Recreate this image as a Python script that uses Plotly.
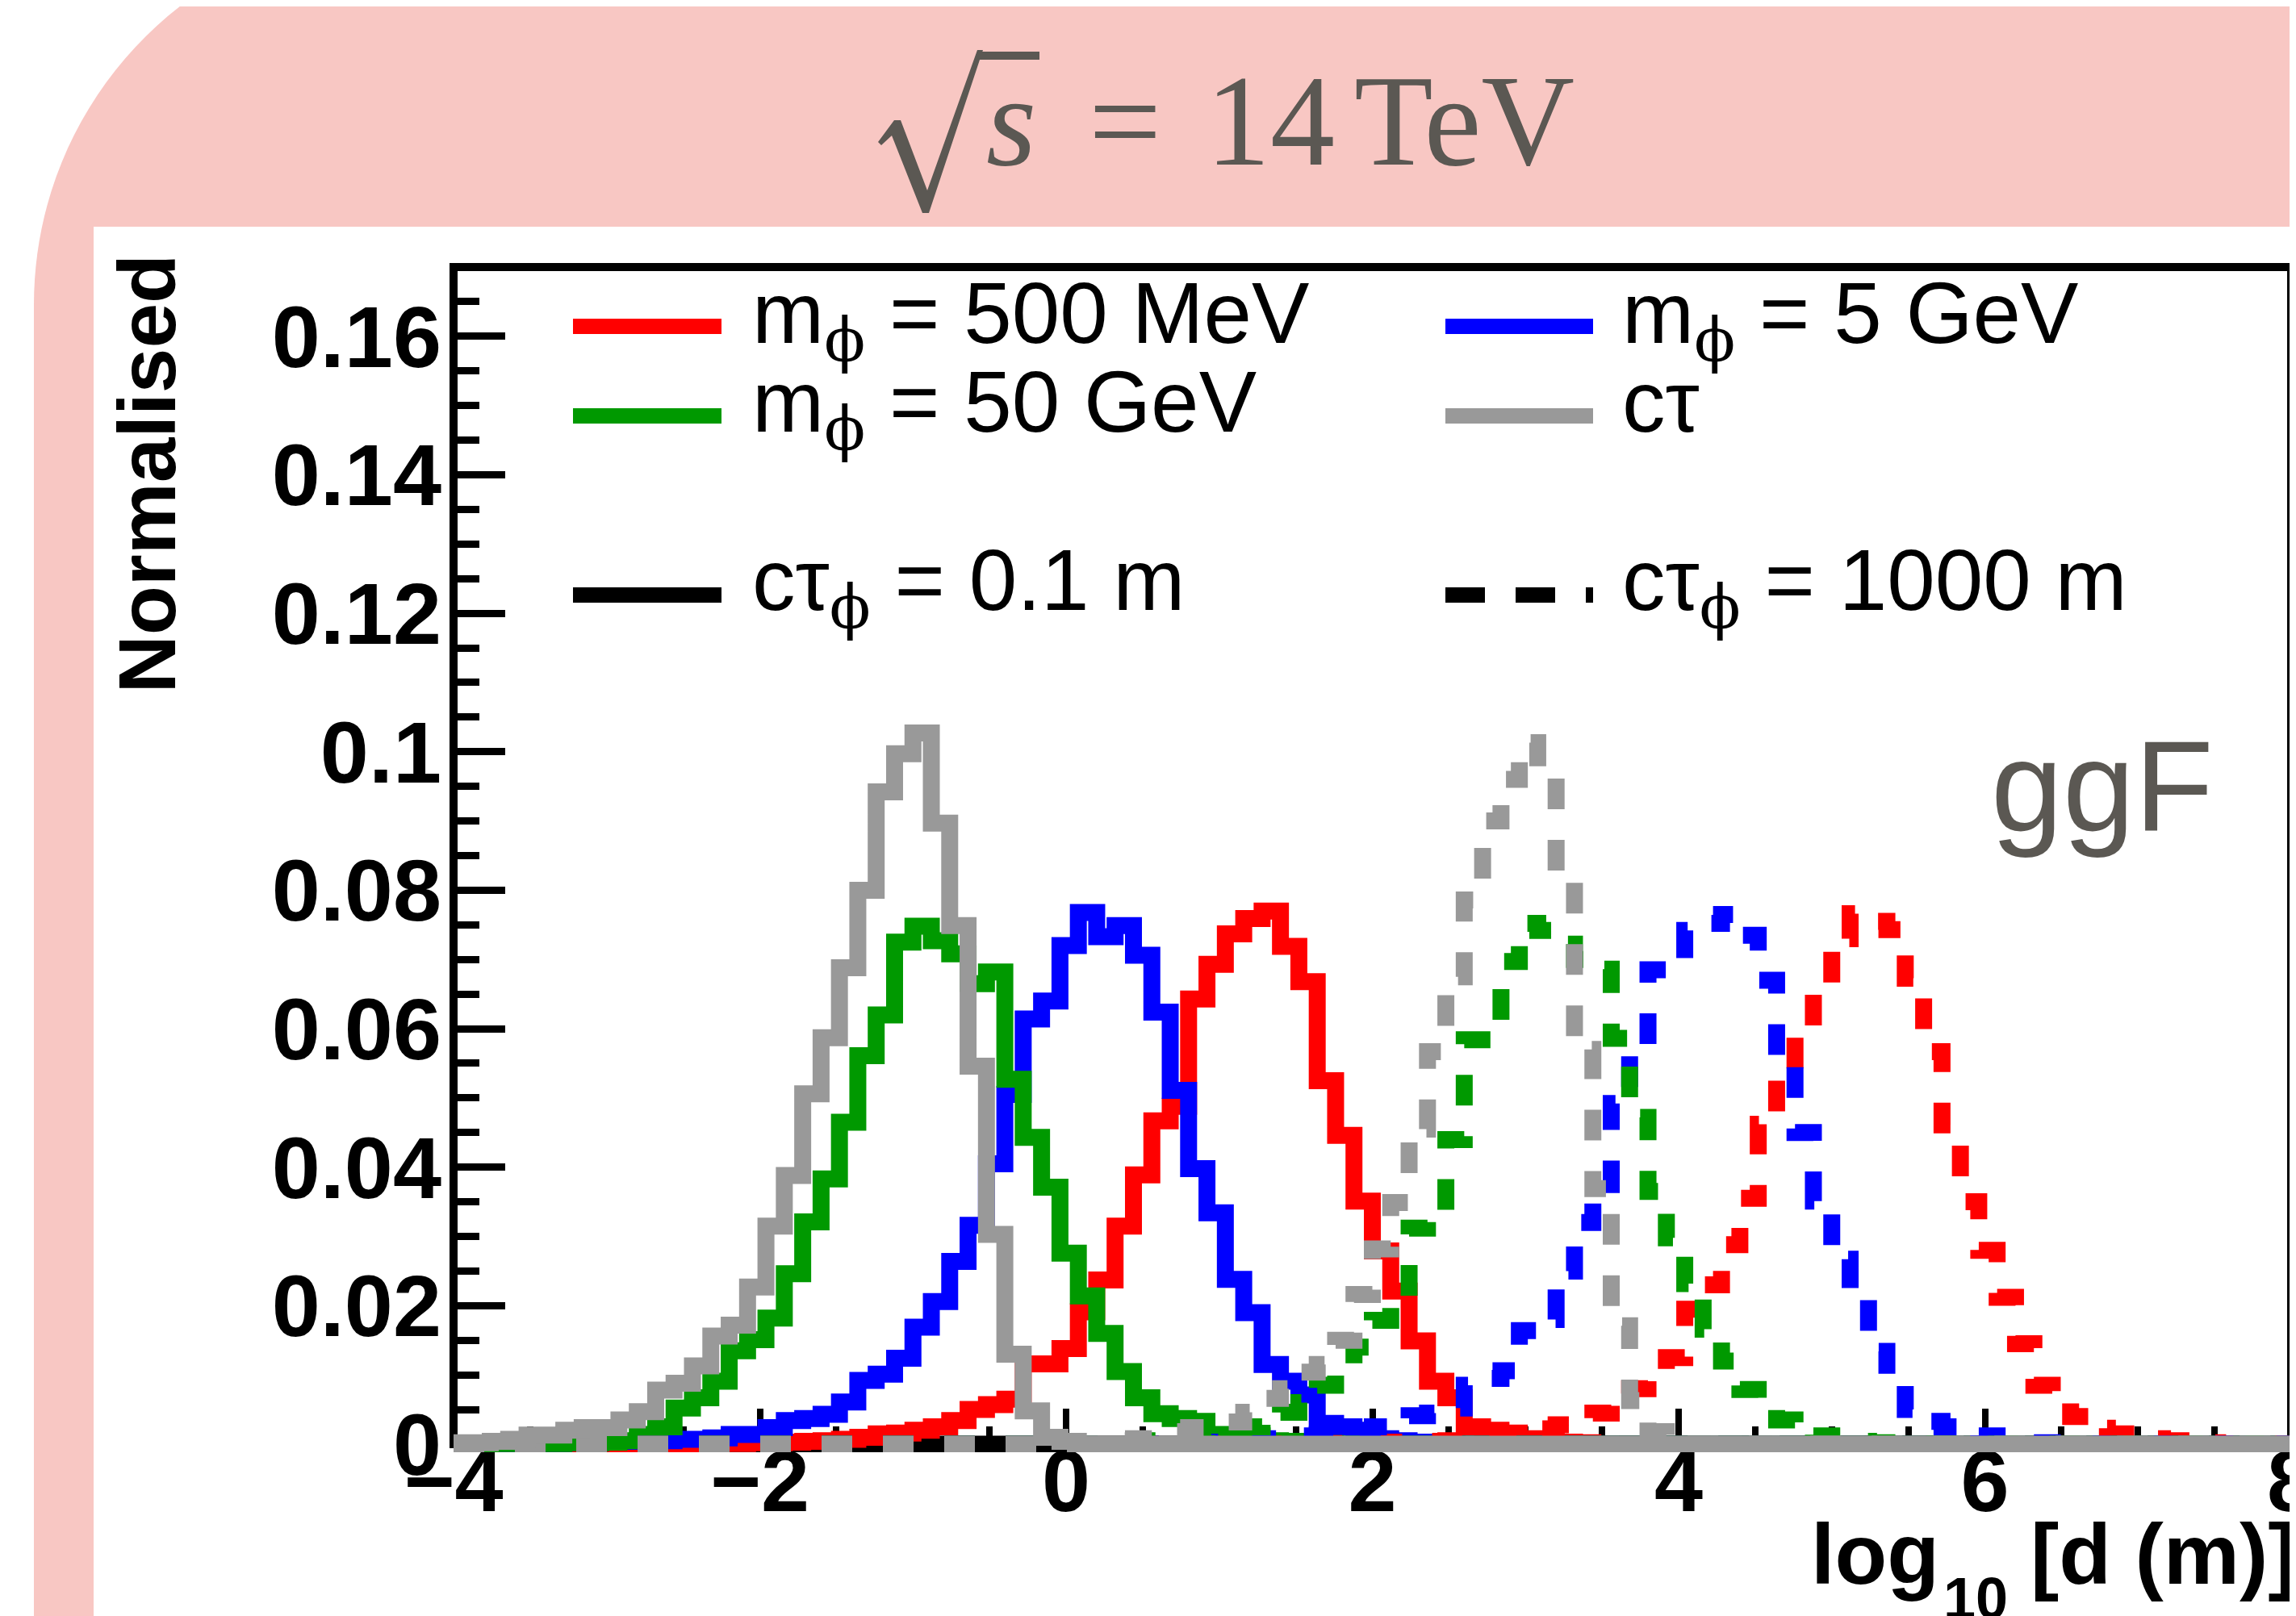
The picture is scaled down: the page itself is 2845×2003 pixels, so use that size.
import plotly.graph_objects as go

# ------------------------------------------------------------------
# Data (histogram contents, 100 bins between X_LOW and X_HIGH)
# ------------------------------------------------------------------
N_BINS = 100
X_LOW = -4.0
X_HIGH = 8.0

# c tau = 0.1 m (solid)
RED_CT01 = [
    0, 0, 0, 0, 0, 0, 0, 0, 0, 0,
    0, 0, 0, 0, 0.0001, 0.0001, 0.0002, 0.0002, 0.0003, 0.0004,
    0.0005, 0.0007, 0.0010, 0.0015, 0.0016, 0.0020, 0.0025, 0.0034, 0.0050, 0.0057,
    0.0065, 0.0116, 0.0116, 0.0138, 0.0191, 0.0237, 0.0315, 0.0389, 0.0467, 0.0488,
    0.0643, 0.0693, 0.0737, 0.0759, 0.0770, 0.0719, 0.0668, 0.0525, 0.0446, 0.0351,
    0.0279, 0.0221, 0.0149, 0.0091, 0.0067, 0.0025, 0.0020, 0.0016, 0.0008, 0.0005,
    0.0003, 0.0002, 0, 0, 0, 0, 0, 0, 0, 0,
    0, 0, 0, 0, 0, 0, 0, 0, 0, 0,
    0, 0, 0, 0, 0, 0, 0, 0, 0, 0,
    0, 0, 0, 0, 0, 0, 0, 0, 0, 0,
]
BLUE_CT01 = [
    0, 0, 0.0001, 0.0001, 0.0001, 0.0001, 0.0002, 0.0002, 0.0004, 0.0004,
    0.0005, 0.0005, 0.0007, 0.0007, 0.0009, 0.0014, 0.0014, 0.0024, 0.0034, 0.0037,
    0.0043, 0.0061, 0.0092, 0.0101, 0.0124, 0.0169, 0.0206, 0.0264, 0.0316, 0.0405,
    0.0505, 0.0614, 0.0640, 0.0720, 0.0768, 0.0733, 0.0749, 0.0706, 0.0624, 0.0511,
    0.0398, 0.0334, 0.0238, 0.0190, 0.0115, 0.0091, 0.0071, 0.0030, 0.0025, 0.0012,
    0.0008, 0.0005, 0.0003, 0.0002, 0, 0, 0, 0, 0, 0,
    0, 0, 0, 0, 0, 0, 0, 0, 0, 0,
    0, 0, 0, 0, 0, 0, 0, 0, 0, 0,
    0, 0, 0, 0, 0, 0, 0, 0, 0, 0,
    0, 0, 0, 0, 0, 0, 0, 0, 0, 0,
]
GREEN_CT01 = [
    0, 0, 0.0001, 0.0002, 0.0001, 0.0001, 0.0002, 0.0002, 0.0003, 0.0005,
    0.0014, 0.0025, 0.0052, 0.0067, 0.0091, 0.0135, 0.0151, 0.0182, 0.0246, 0.0321,
    0.0383, 0.0465, 0.0561, 0.0620, 0.0725, 0.0748, 0.0727, 0.0708, 0.0665, 0.0682,
    0.0527, 0.0443, 0.0371, 0.0276, 0.0214, 0.0160, 0.0105, 0.0067, 0.0044, 0.0037,
    0.0033, 0.0014, 0.0013, 0.0012, 0.0005, 0.0004, 0.0002, 0.0001, 0, 0,
    0, 0, 0, 0, 0, 0, 0, 0, 0, 0,
    0, 0, 0, 0, 0, 0, 0, 0, 0, 0,
    0, 0, 0, 0, 0, 0, 0, 0, 0, 0,
    0, 0, 0, 0, 0, 0, 0, 0, 0, 0,
    0, 0, 0, 0, 0, 0, 0, 0, 0, 0,
]
GREY_CT01 = [
    0.0002, 0.0002, 0.0004, 0.0007, 0.0013, 0.0013, 0.0020, 0.0024, 0.0024, 0.0035,
    0.0047, 0.0078, 0.0088, 0.0113, 0.0156, 0.0172, 0.0227, 0.0315, 0.0388, 0.0506,
    0.0587, 0.0688, 0.0800, 0.0942, 0.0997, 0.1027, 0.0897, 0.0749, 0.0546, 0.0303,
    0.0130, 0.0048, 0.0010, 0.0004, 0, 0, 0, 0, 0, 0,
    0, 0, 0, 0, 0, 0, 0, 0, 0, 0,
    0, 0, 0, 0, 0, 0, 0, 0, 0, 0,
    0, 0, 0, 0, 0, 0, 0, 0, 0, 0,
    0, 0, 0, 0, 0, 0, 0, 0, 0, 0,
    0, 0, 0, 0, 0, 0, 0, 0, 0, 0,
    0, 0, 0, 0, 0, 0, 0, 0, 0, 0,
]

# c tau = 1000 m (dashed)
RED_CT1000 = [
    0, 0, 0, 0, 0, 0, 0, 0, 0, 0,
    0, 0, 0, 0, 0, 0, 0, 0, 0, 0,
    0, 0, 0, 0, 0, 0, 0, 0, 0, 0,
    0, 0, 0, 0, 0, 0, 0, 0, 0, 0,
    0, 0, 0, 0, 0, 0, 0, 0, 0.0001, 0.0002,
    0.0002, 0.0003, 0.0004, 0.0004, 0.0005, 0.0007, 0.0010, 0.0015, 0.0016, 0.0022,
    0.0028, 0.0033, 0.0045, 0.0063, 0.0080, 0.0102, 0.0125, 0.0195, 0.0230, 0.0288,
    0.0355, 0.0462, 0.0532, 0.0590, 0.0660, 0.0730, 0.0766, 0.0755, 0.0743, 0.0673,
    0.0567, 0.0461, 0.0350, 0.0280, 0.0212, 0.0145, 0.0085, 0.0063, 0.0040, 0.0023,
    0.0015, 0.0010, 0.0008, 0.0005, 0.0003, 0.0002, 0, 0, 0, 0,
]
BLUE_CT1000 = [
    0, 0, 0, 0, 0, 0, 0, 0, 0, 0,
    0, 0, 0, 0, 0, 0, 0, 0, 0, 0,
    0, 0, 0, 0, 0, 0, 0, 0, 0, 0,
    0, 0, 0, 0, 0, 0, 0, 0, 0, 0,
    0.0002, 0.0003, 0.0004, 0.0006, 0.0008, 0.0010, 0.0012, 0.0014, 0.0016, 0.0020,
    0.0025, 0.0035, 0.0041, 0.0045, 0.0052, 0.0085, 0.0095, 0.0106, 0.0164, 0.0180,
    0.0250, 0.0320, 0.0375, 0.0492, 0.0562, 0.0685, 0.0700, 0.0742, 0.0752, 0.0765,
    0.0735, 0.0670, 0.0551, 0.0450, 0.0351, 0.0267, 0.0213, 0.0134, 0.0100, 0.0050,
    0.0033, 0.0025, 0.0016, 0.0012, 0.0007, 0.0004, 0.0002, 0, 0, 0,
    0, 0, 0, 0, 0, 0, 0, 0, 0, 0,
]
GREEN_CT1000 = [
    0, 0, 0, 0, 0, 0, 0, 0, 0, 0,
    0, 0, 0, 0, 0, 0, 0, 0, 0, 0,
    0, 0, 0, 0, 0, 0, 0, 0, 0, 0,
    0, 0, 0, 0, 0, 0, 0, 0.0003, 0.0005, 0.0007,
    0.0010, 0.0013, 0.0018, 0.0025, 0.0033, 0.0046, 0.0060, 0.0085, 0.0100, 0.0140,
    0.0179, 0.0200, 0.0312, 0.0335, 0.0440, 0.0584, 0.0584, 0.0697, 0.0752, 0.0742,
    0.0722, 0.0700, 0.0686, 0.0586, 0.0472, 0.0365, 0.0298, 0.0232, 0.0166, 0.0120,
    0.0079, 0.0060, 0.0035, 0.0020, 0.0012, 0.0008, 0.0004, 0.0002, 0, 0,
    0, 0, 0, 0, 0, 0, 0, 0, 0, 0,
    0, 0, 0, 0, 0, 0, 0, 0, 0, 0,
]
GREY_CT1000 = [
    0, 0, 0, 0, 0, 0, 0, 0, 0, 0,
    0, 0, 0, 0, 0, 0, 0, 0, 0, 0,
    0, 0, 0, 0, 0, 0, 0, 0, 0, 0,
    0, 0, 0, 0, 0, 0, 0.0005, 0.0008, 0.0012, 0.0018,
    0.0024, 0.0025, 0.0032, 0.0046, 0.0066, 0.0080, 0.0104, 0.0115, 0.0150, 0.0216,
    0.0282, 0.0349, 0.0455, 0.0567, 0.0675, 0.0786, 0.0900, 0.0960, 0.1013, 0.0970,
    0.0815, 0.0570, 0.0369, 0.0171, 0.0063, 0.0018, 0.0005, 0, 0, 0,
    0, 0, 0, 0, 0, 0, 0, 0, 0, 0,
    0, 0, 0, 0, 0, 0, 0, 0, 0, 0,
    0, 0, 0, 0, 0, 0, 0, 0, 0, 0,
]
# empty reference histogram drawn in black (style key of the legend)
BLACK_KEY = [
    0, 0, 0, 0, 0, 0, 0, 0, 0, 0,
    0, 0, 0, 0, 0, 0, 0, 0, 0, 0,
    0, 0, 0, 0, 0, 0, 0, 0, 0, 0,
    0, 0, 0, 0, 0, 0, 0, 0, 0, 0,
    0, 0, 0, 0, 0, 0, 0, 0, 0, 0,
    0, 0, 0, 0, 0, 0, 0, 0, 0, 0,
    0, 0, 0, 0, 0, 0, 0, 0, 0, 0,
    0, 0, 0, 0, 0, 0, 0, 0, 0, 0,
    0, 0, 0, 0, 0, 0, 0, 0, 0, 0,
    0, 0, 0, 0, 0, 0, 0, 0, 0, 0,
]

X_TICK_VALS = [-4, -2, 0, 2, 4, 6, 8]
X_TICK_TEXT = ["\u22124", "\u22122", "0", "2", "4", "6", "8"]
Y_TICK_VALS = [0, 0.02, 0.04, 0.06, 0.08, 0.1, 0.12, 0.14, 0.16]
Y_TICK_TEXT = ["0", "0.02", "0.04", "0.06", "0.08", "0.1", "0.12", "0.14", "0.16"]

PHI = "<span style='font-family:DejaVu Serif'>\u03d5</span>"
LEGEND_MASS = [f"m<sub>{PHI}</sub> = 500 MeV", f"m<sub>{PHI}</sub> = 5 GeV",
               f"m<sub>{PHI}</sub> = 50 GeV", "c\u03c4"]
LEGEND_CT = [f"c\u03c4<sub>{PHI}</sub> = 0.1 m", f"c\u03c4<sub>{PHI}</sub> = 1000 m"]
X_TITLE = ["log", "10", "[d (m)]"]
Y_TITLE = "Normalised"

# ------------------------------------------------------------------
# Style / geometry
# ------------------------------------------------------------------
W, H = 2845, 2003
PLOT_L, PLOT_R, PLOT_T, PLOT_B = 554, 2831, 323, 1792
Y_ZERO_PX = 1782
Y_MAX = 0.17
Y_MIN = -(PLOT_B - Y_ZERO_PX) * Y_MAX / (Y_ZERO_PX - PLOT_T)

RED, BLUE, GREEN, GREY = "#FF0000", "#0000FF", "#009900", "#999999"
TXT_GREY = "#5B5853"
PINK = "#F8C7C3"
DASH = "38px,38px"
LW = 21
SANS = "Liberation Sans"


def fx(px):
    return (px - PLOT_L) / (PLOT_R - PLOT_L)


def fy(py):
    return (PLOT_B - py) / (PLOT_B - PLOT_T)


edges = [X_LOW + (X_HIGH - X_LOW) * k / N_BINS for k in range(N_BINS + 1)]

fig = go.Figure()


def add_hist(vals, color, dash):
    fig.add_trace(go.Scatter(
        x=edges, y=list(vals) + [vals[-1]], mode="lines",
        line=dict(color=color, width=LW, shape="hv", dash=dash),
        showlegend=False, hoverinfo="skip"))


add_hist(BLACK_KEY, "#000000", "solid")
add_hist(BLACK_KEY, "#000000", DASH)
add_hist(RED_CT01, RED, "solid")
add_hist(BLUE_CT01, BLUE, "solid")
add_hist(GREEN_CT01, GREEN, "solid")
add_hist(RED_CT1000, RED, DASH)
add_hist(BLUE_CT1000, BLUE, DASH)
add_hist(GREEN_CT1000, GREEN, DASH)
add_hist(GREY_CT1000, GREY, DASH)
add_hist(GREY_CT01, GREY, "solid")

shapes = []
# pink rounded canvas
pink_path = (f"M {fx(34)},{fy(2100)} L {fx(34)},{fy(370)} "
             f"C {fx(34)},{fy(111)} {fx(244)},{fy(-99)} {fx(503)},{fy(-99)} "
             f"L {fx(2900)},{fy(-99)} L {fx(2900)},{fy(2100)} Z")
shapes.append(dict(type="path", xref="paper", yref="paper", path=pink_path,
                   fillcolor=PINK, line=dict(width=0), layer="below"))
shapes.append(dict(type="rect", xref="paper", yref="paper",
                   x0=fx(108), x1=fx(2900), y0=fy(2100), y1=fy(273),
                   fillcolor="white", line=dict(width=0), layer="below"))
# frame
shapes.append(dict(type="rect", xref="paper", yref="paper",
                   x0=0, x1=1, y0=fy(Y_ZERO_PX), y1=1,
                   line=dict(color="black", width=10), layer="below"))

# radical sign of the title
rad = [(1080, 168), (1100, 141), (1108, 141), (1141, 228), (1203, 54), (1210, 54),
       (1143, 256), (1135, 256), (1097, 160), (1084, 172)]
rad_path = "M " + " L ".join(f"{fx(a)},{fy(b)}" for a, b in rad) + " Z"
shapes.append(dict(type="path", xref="paper", yref="paper", path=rad_path,
                   fillcolor=TXT_GREY, line=dict(width=0), layer="above"))
shapes.append(dict(type="rect", xref="paper", yref="paper",
                   x0=fx(1204), x1=fx(1280), y0=fy(66), y1=fy(56),
                   fillcolor=TXT_GREY, line=dict(width=0), layer="above"))

# legend keys
LEG_X = [(702, 886), (1783, 1966)]
LEG_Y = [396.5, 507.5, 729.5]
leg_keys = [(0, 0, RED, "solid"), (0, 1, BLUE, "solid"), (1, 0, GREEN, "solid"),
            (1, 1, GREY, "solid"), (2, 0, "#000000", "solid"),
            (2, 1, "#000000", "49px,38px")]
for r, c, col, d in leg_keys:
    shapes.append(dict(type="line", xref="paper", yref="paper",
                       x0=fx(LEG_X[c][0]), x1=fx(LEG_X[c][1]),
                       y0=fy(LEG_Y[r]), y1=fy(LEG_Y[r]),
                       line=dict(color=col, width=19, dash=d), layer="above"))

ann = []
LEG_FS = 107
LEG_TOP = [318, 428, 649]
LEG_TX = [922, 2000]
leg_text = [(0, 0, LEGEND_MASS[0]), (0, 1, LEGEND_MASS[1]),
            (1, 0, LEGEND_MASS[2]), (1, 1, LEGEND_MASS[3]),
            (2, 0, LEGEND_CT[0]), (2, 1, LEGEND_CT[1])]
for r, c, t in leg_text:
    ann.append(dict(xref="paper", yref="paper", x=fx(LEG_TX[c]), y=fy(LEG_TOP[r]),
                    xanchor="left", yanchor="top", text=t, showarrow=False,
                    font=dict(family=SANS, size=LEG_FS, color="black")))

# title sqrt(s) = 14 TeV
SERIF = dict(family="Liberation Serif", size=160, color=TXT_GREY)
ann.append(dict(xref="paper", yref="paper", x=fx(1212), y=fy(51), xanchor="left",
                yanchor="top", text="<i>s</i>", showarrow=False, font=SERIF))
ann.append(dict(xref="paper", yref="paper", x=fx(1386), y=fy(51), xanchor="center",
                yanchor="top", text="=", showarrow=False, font=SERIF))
ann.append(dict(xref="paper", yref="paper", x=fx(1484), y=fy(51), xanchor="left",
                yanchor="top", text="14", showarrow=False, font=SERIF))
ann.append(dict(xref="paper", yref="paper", x=fx(1668), y=fy(51), xanchor="left",
                yanchor="top", text="TeV", showarrow=False, font=SERIF))
# ggF
ann.append(dict(xref="paper", yref="paper", x=fx(2597), y=fy(875), xanchor="center",
                yanchor="top", text="ggF", showarrow=False,
                font=dict(family=SANS, size=160, color=TXT_GREY)))
# y axis title
ann.append(dict(xref="paper", yref="paper", x=fx(173), y=fy(305), xanchor="center",
                yanchor="top", text=f"<b>{Y_TITLE}</b>", textangle=-90, showarrow=False,
                font=dict(family=SANS, size=100, color="black")))
# x axis title: log_10[d (m)]
XT_FS = 106
ann.append(dict(xref="paper", yref="paper", x=fx(2234), y=fy(1857), xanchor="left",
                yanchor="top", text=f"<b>{X_TITLE[0]}</b>", showarrow=False,
                font=dict(family=SANS, size=XT_FS, color="black")))
ann.append(dict(xref="paper", yref="paper", x=fx(2440), y=fy(1931), xanchor="center",
                yanchor="top", text=f"<b>{X_TITLE[1]}</b>", showarrow=False,
                font=dict(family=SANS, size=72, color="black")))
ann.append(dict(xref="paper", yref="paper", x=fx(2840), y=fy(1857), xanchor="right",
                yanchor="top", text=f"<b>{X_TITLE[2]}</b>", showarrow=False,
                font=dict(family=SANS, size=XT_FS, color="black")))

fig.update_layout(
    width=W, height=H,
    margin=dict(l=PLOT_L, r=W - PLOT_R, t=PLOT_T, b=H - PLOT_B, pad=0, autoexpand=False),
    paper_bgcolor="white", plot_bgcolor="white",
    font=dict(family=SANS, color="black"),
    shapes=shapes, annotations=ann,
    showlegend=False,
)
fig.update_xaxes(
    range=[X_LOW, X_HIGH], showgrid=False, zeroline=False, showline=False,
    tickmode="array", tickvals=X_TICK_VALS, ticktext=X_TICK_TEXT,
    ticks="inside", ticklen=54, tickwidth=8, tickcolor="black",
    minor=dict(tickmode="linear", tick0=X_LOW, dtick=0.5, ticks="inside",
               ticklen=32, tickwidth=8, tickcolor="black"),
    tickfont=dict(family=SANS, size=108, color="black", weight="bold"),
    ticklabelstandoff=-36, ticklabeloverflow="allow",
    layer="below traces", automargin=False,
)
fig.update_yaxes(
    range=[Y_MIN, Y_MAX], showgrid=False, zeroline=False, showline=False,
    tickmode="array", tickvals=Y_TICK_VALS, ticktext=Y_TICK_TEXT,
    ticks="inside", ticklen=64, tickwidth=9, tickcolor="black",
    minor=dict(tickmode="linear", tick0=0, dtick=0.005, ticks="inside",
               ticklen=32, tickwidth=9, tickcolor="black"),
    tickfont=dict(family=SANS, size=108, color="black", weight="bold"),
    ticklabelstandoff=14, ticklabeloverflow="allow",
    layer="below traces", automargin=False,
)

fig.write_html("out.html")
